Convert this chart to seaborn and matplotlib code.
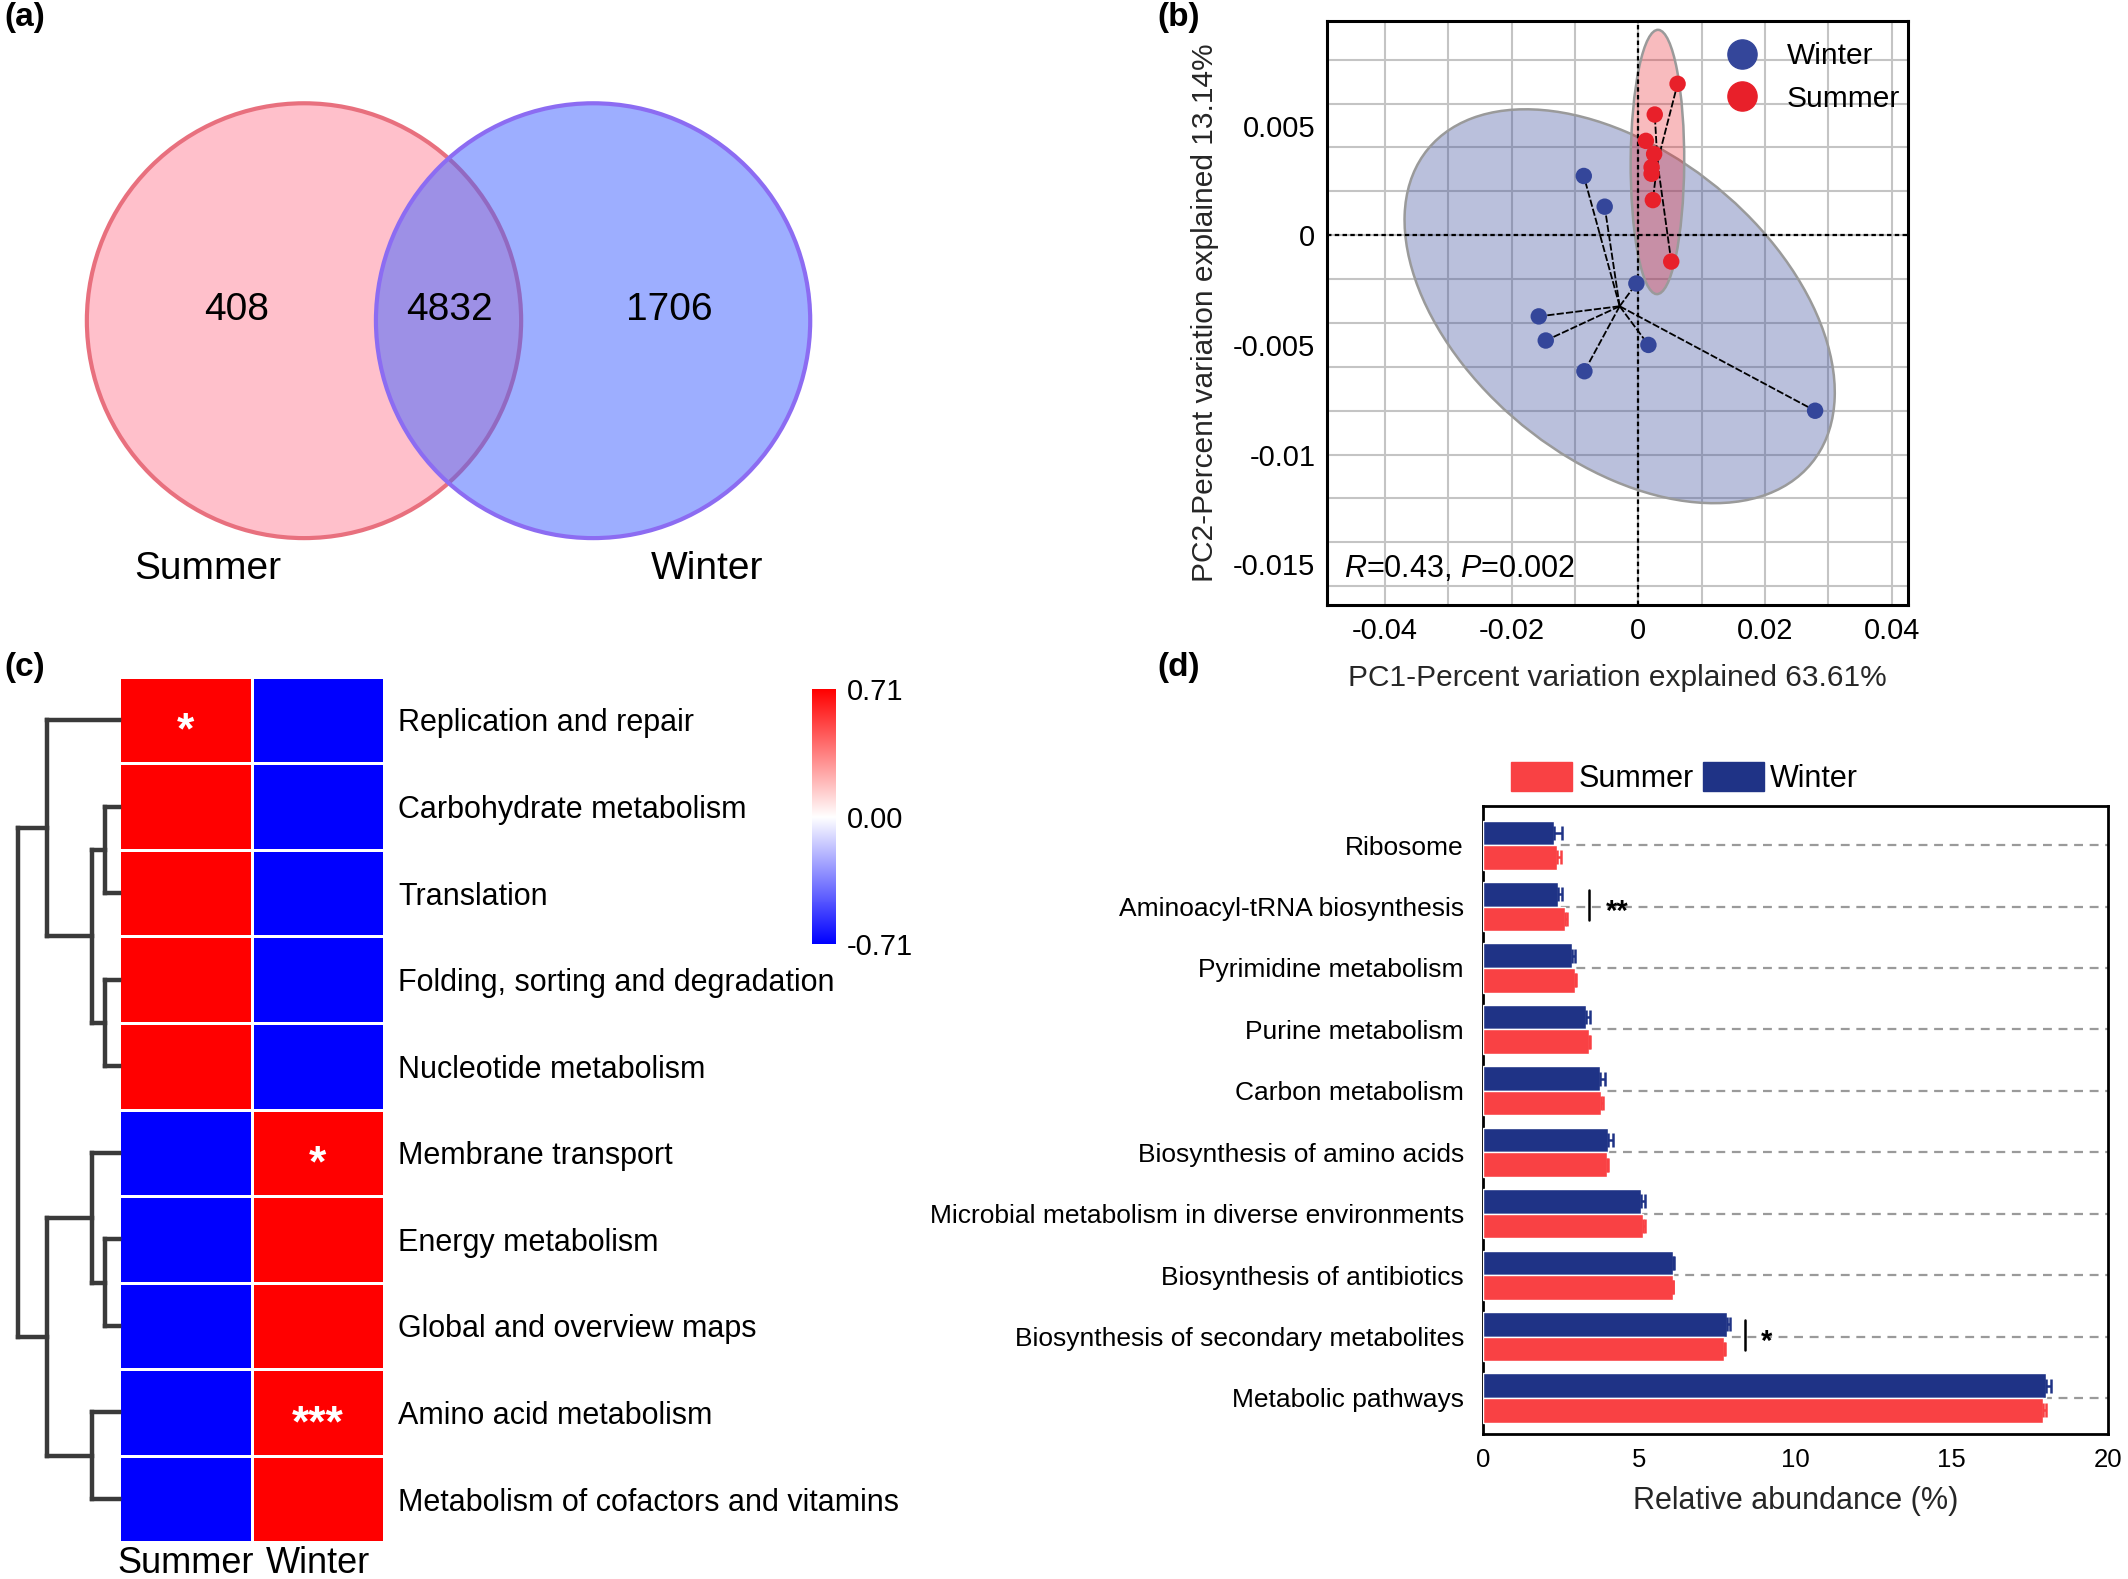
import numpy as np
import pandas as pd
import matplotlib
matplotlib.use("Agg")
import matplotlib.pyplot as plt
from matplotlib.patches import Ellipse, Patch, Circle
from matplotlib.lines import Line2D
from matplotlib.ticker import MultipleLocator, FuncFormatter
import matplotlib.transforms as mtransforms
import seaborn as sns

# ===== Data =====
# (a) Venn counts: summer only, shared, winter only
venn_labels = ["Summer", "Winter"]
venn_counts = [408, 4832, 1706]

# (b) PCoA scores
winter_pc1 = [-0.0086, -0.0053, -0.0003, -0.0157, -0.0146, -0.0085, 0.0016, 0.0279]
winter_pc2 = [0.0027, 0.0013, -0.0022, -0.0037, -0.0048, -0.0062, -0.0050, -0.0080]
summer_pc1 = [0.0062, 0.0026, 0.0012, 0.0025, 0.0021, 0.0021, 0.0023, 0.0052]
summer_pc2 = [0.0069, 0.0055, 0.0043, 0.0037, 0.0031, 0.0028, 0.0016, -0.0012]

# (c) KEGG level-2 heatmap (row z-scores)
kegg_l2 = ["Replication and repair", "Carbohydrate metabolism", "Translation",
           "Folding, sorting and degradation", "Nucleotide metabolism",
           "Membrane transport", "Energy metabolism", "Global and overview maps",
           "Amino acid metabolism", "Metabolism of cofactors and vitamins"]
z_summer = [0.71, 0.71, 0.71, 0.71, 0.71, -0.71, -0.71, -0.71, -0.71, -0.71]
z_winter = [-0.71, -0.71, -0.71, -0.71, -0.71, 0.71, 0.71, 0.71, 0.71, 0.71]
stars_summer = ["*", "", "", "", "", "", "", "", "", ""]
stars_winter = ["", "", "", "", "", "*", "", "", "***", ""]
# dendrogram merges (node a, node b, height); new nodes numbered from 10
dendro_merges = [(1, 2, 0.40), (3, 4, 0.40), (10, 11, 0.75), (0, 12, 2.0),
                 (6, 7, 0.40), (5, 14, 0.75), (8, 9, 0.75), (15, 16, 2.0),
                 (13, 17, 2.8)]

# (d) KEGG level-3 relative abundance (%)
kegg_l3 = ["Ribosome", "Aminoacyl-tRNA biosynthesis", "Pyrimidine metabolism",
           "Purine metabolism", "Carbon metabolism", "Biosynthesis of amino acids",
           "Microbial metabolism in diverse environments", "Biosynthesis of antibiotics",
           "Biosynthesis of secondary metabolites", "Metabolic pathways"]
summer_abund = [2.36, 2.62, 2.93, 3.39, 3.78, 3.97, 5.13, 6.07, 7.71, 17.92]
summer_err = [0.12, 0.05, 0.03, 0.04, 0.05, 0.03, 0.05, 0.02, 0.04, 0.10]
winter_abund = [2.25, 2.38, 2.84, 3.28, 3.73, 4.00, 5.06, 6.06, 7.79, 18.02]
winter_err = [0.28, 0.15, 0.09, 0.13, 0.16, 0.16, 0.12, 0.06, 0.11, 0.15]
sig_rows = [1, 8]
sig_line_x = [3.39, 8.39]
sig_text_x = [4.29, 9.07]
sig_text = ["**", "*"]

# ===== Style =====
sns.set_style("white")
plt.rcParams["font.family"] = ["Liberation Sans", "DejaVu Sans"]
plt.rcParams["mathtext.fontset"] = "custom"
plt.rcParams["mathtext.rm"] = "Liberation Sans"
plt.rcParams["mathtext.it"] = "Liberation Sans:italic"
plt.rcParams["text.color"] = "black"
plt.rcParams["xtick.color"] = "black"
plt.rcParams["ytick.color"] = "black"

RED = "#E8202A"
BLUE = "#34469A"
BAR_RED = "#F94144"
BAR_BLUE = "#1F3386"

fig = plt.figure(figsize=(21.28, 15.79), dpi=100)
W, H = 1568.0, 1162.0


def box(x0, y0, x1, y1):
    return [x0 / W, 1 - y1 / H, (x1 - x0) / W, (y1 - y0) / H]


# ===== (a) Venn =====
ax_a = fig.add_axes(box(0, 0, 640, 480))
ax_a.set_xlim(0, 640)
ax_a.set_ylim(480, 0)
ax_a.axis("off")
ax_a.add_patch(Circle((224, 236), 160, facecolor="#FFC0CB", edgecolor="none"))
ax_a.add_patch(Circle((224, 236), 160, facecolor="none", edgecolor="#E8707E", lw=3))
ax_a.add_patch(Circle((437, 236), 160, facecolor=(68 / 255, 100 / 255, 1.0), alpha=0.52, edgecolor="none"))
ax_a.add_patch(Circle((437, 236), 160, facecolor="none", edgecolor="#8C6CF2", lw=3))
for xpos, cnt in zip([174, 331, 493], venn_counts):
    ax_a.text(xpos, 228, str(cnt), ha="center", va="center", fontsize=28)
for xpos, lab in zip([153, 521], venn_labels):
    ax_a.text(xpos, 419, lab, ha="center", va="center", fontsize=28)

# ===== (b) PCoA =====
ax_b = fig.add_axes(box(978, 15.5, 1406, 445))
pcoa_df = pd.DataFrame({
    "PC1": winter_pc1 + summer_pc1,
    "PC2": winter_pc2 + summer_pc2,
    "Season": ["Winter"] * len(winter_pc1) + ["Summer"] * len(summer_pc1),
})
pal_b = {"Winter": BLUE, "Summer": RED}


def conf_ellipse(x, y, ax, n_std=2.4477, **kw):
    cov = np.cov(x, y)
    vals, vecs = np.linalg.eigh(cov)
    order = vals.argsort()[::-1]
    vals, vecs = vals[order], vecs[:, order]
    angle = np.degrees(np.arctan2(vecs[1, 0], vecs[0, 0]))
    w, h = 2 * n_std * np.sqrt(vals)
    ax.add_patch(Ellipse((np.mean(x), np.mean(y)), w, h, angle=angle, **kw))


conf_ellipse(winter_pc1, winter_pc2, ax_b, facecolor="#3B4C9B", alpha=0.35,
             edgecolor="none", zorder=1)
conf_ellipse(winter_pc1, winter_pc2, ax_b, facecolor="none", edgecolor="#9a9a9a",
             lw=1.8, zorder=1)
conf_ellipse(summer_pc1, summer_pc2, ax_b, facecolor=RED, alpha=0.3,
             edgecolor="none", zorder=1.2)
conf_ellipse(summer_pc1, summer_pc2, ax_b, facecolor="none", edgecolor="#9a9a9a",
             lw=1.8, zorder=1.2)

ax_b.axhline(0, color="black", ls=(0, (2, 1.5)), lw=1.6, zorder=1.5)
ax_b.axvline(0, color="black", ls=(0, (2, 1.5)), lw=1.6, zorder=1.5)

for season, grp in pcoa_df.groupby("Season"):
    cx, cy = grp["PC1"].mean(), grp["PC2"].mean()
    for px, py in zip(grp["PC1"], grp["PC2"]):
        ax_b.plot([cx, px], [cy, py], color="black", ls=(0, (4, 1.2)), lw=1.3, zorder=2)

sns.scatterplot(data=pcoa_df, x="PC1", y="PC2", hue="Season", palette=pal_b,
                s=140, edgecolor="none", legend=False, zorder=5, ax=ax_b)

ax_b.set_xlim(-0.04907, 0.04258)
ax_b.set_ylim(-0.01684, 0.00976)
ax_b.set_xticks([-0.04, -0.02, 0, 0.02, 0.04])
ax_b.set_yticks([0.005, 0, -0.005, -0.01, -0.015])


def fmt_tick(v, pos):
    s = f"{round(v, 4):g}"
    return "0" if s in ("-0", "0") else s


ax_b.xaxis.set_major_formatter(FuncFormatter(fmt_tick))
ax_b.yaxis.set_major_formatter(FuncFormatter(fmt_tick))
ax_b.xaxis.set_minor_locator(MultipleLocator(0.01))
ax_b.yaxis.set_minor_locator(MultipleLocator(0.002))
ax_b.xaxis.remove_overlapping_locs = False
ax_b.yaxis.remove_overlapping_locs = False
ax_b.grid(which="minor", color="#c4c4c4", lw=1.5)
ax_b.grid(which="major", visible=False)
ax_b.set_axisbelow(True)
ax_b.tick_params(which="minor", length=0)
ax_b.tick_params(which="major", labelsize=21, length=5, width=1.5, direction="out")
for sp in ax_b.spines.values():
    sp.set_linewidth(2.2)
    sp.set_color("black")
ax_b.set_xlabel("PC1-Percent variation explained 63.61%", fontsize=21.5, labelpad=14)
ax_b.set_ylabel("PC2-Percent variation explained 13.14%", fontsize=21.5, labelpad=10)
ax_b.text(0.028, 0.062, r"$\mathit{R}$=0.43, $\mathit{P}$=0.002", transform=ax_b.transAxes,
          fontsize=22, ha="left", va="center")
leg_handles = [Line2D([], [], marker="o", ls="none", color=pal_b[k], markersize=21, label=k)
               for k in ["Winter", "Summer"]]
ax_b.legend(handles=leg_handles, loc="upper left", bbox_to_anchor=(0.652, 1.0),
            frameon=False, fontsize=21.5, handlelength=1.0, handletextpad=1.0,
            labelspacing=0.5, borderpad=0.2)

# ===== (c) heatmap + dendrogram =====
ax_c = fig.add_axes(box(88, 498, 283, 1135))
ax_dn = fig.add_axes(box(13.5, 498, 88, 1135))
ax_cb = fig.add_axes(box(598, 507, 616, 695))

heat_df = pd.DataFrame({"Summer": z_summer, "Winter": z_winter}, index=kegg_l2)
star_arr = np.array([stars_summer, stars_winter]).T
sns.heatmap(heat_df, ax=ax_c, cmap="bwr", vmin=-0.71, vmax=0.71, linewidths=1,
            linecolor="white", annot=star_arr, fmt="",
            annot_kws={"color": "white", "fontsize": 32, "fontweight": "bold"},
            cbar_ax=ax_cb, cbar_kws={"ticks": [0.71, 0, -0.71]})
shift = mtransforms.ScaledTranslation(0, -12 / 100, fig.dpi_scale_trans)
for t in ax_c.texts:
    t.set_transform(t.get_transform() + shift)
ax_c.yaxis.tick_right()
ax_c.set_yticklabels(kegg_l2, rotation=0, fontsize=22, ha="left")
ax_c.set_xticklabels(heat_df.columns, fontsize=26)
ax_c.tick_params(axis="both", length=0)
ax_c.tick_params(axis="y", pad=10)
ax_c.tick_params(axis="x", pad=3)
ax_c.set_xlabel("")
ax_c.set_ylabel("")

cbar = ax_c.collections[0].colorbar
cbar.set_ticks([0.71, 0, -0.71])
cbar.set_ticklabels(["0.71", "0.00", "-0.71"])
cbar.ax.tick_params(length=0, labelsize=21, pad=8)
cbar.outline.set_visible(False)

pos = {i: i + 0.5 for i in range(len(kegg_l2))}
hgt = {i: 0.0 for i in range(len(kegg_l2))}
dn_kw = dict(color="#3a3a3a", lw=3.2, solid_capstyle="projecting", clip_on=False)
for k, (a, b, h) in enumerate(dendro_merges):
    node = len(kegg_l2) + k
    for c in (a, b):
        ax_dn.plot([hgt[c], h], [pos[c], pos[c]], **dn_kw)
    ax_dn.plot([h, h], [pos[a], pos[b]], **dn_kw)
    pos[node] = (pos[a] + pos[b]) / 2
    hgt[node] = h
ax_dn.set_xlim(max(hgt.values()), 0)
ax_dn.set_ylim(len(kegg_l2), 0)
ax_dn.axis("off")

# ===== (d) relative abundance bars =====
ax_d = fig.add_axes(box(1093, 593, 1553, 1055))
bar_df = pd.DataFrame({
    "Pathway": kegg_l3 * 2,
    "Season": ["Winter"] * len(kegg_l3) + ["Summer"] * len(kegg_l3),
    "Abundance": winter_abund + summer_abund,
})
for yv in range(len(kegg_l3)):
    ax_d.axhline(yv, color="#9a9a9a", ls=(0, (4, 3)), lw=1.6, zorder=0)
sns.barplot(data=bar_df, x="Abundance", y="Pathway", hue="Season",
            hue_order=["Winter", "Summer"], palette={"Winter": BAR_BLUE, "Summer": BAR_RED},
            width=0.8, errorbar=None, saturation=1, legend=False, ax=ax_d, zorder=3)
for cont, errs, col in zip(ax_d.containers, [winter_err, summer_err], [BAR_BLUE, BAR_RED]):
    ys = [b.get_y() + b.get_height() / 2 for b in cont]
    xs = [b.get_width() for b in cont]
    ax_d.errorbar(xs, ys, xerr=[np.zeros(len(errs)), errs], fmt="none", ecolor=col,
                  elinewidth=1.8, capsize=5, capthick=1.8, zorder=4)
for r, lx, tx, s in zip(sig_rows, sig_line_x, sig_text_x, sig_text):
    ax_d.plot([lx, lx], [r - 0.27, r + 0.22], color="black", lw=1.8, zorder=5)
    ax_d.text(tx, r + 0.08, s, ha="center", va="center", fontsize=21, fontweight="bold")

ax_d.set_xlim(0, 20)
ax_d.set_ylim(len(kegg_l3) - 1 + 0.58, -0.64)
ax_d.set_xticks([0, 5, 10, 15, 20])
ax_d.tick_params(axis="y", labelsize=19, length=8, width=2, pad=6, direction="out")
ax_d.tick_params(axis="x", labelsize=18.5, length=7, width=2, direction="out")
ax_d.set_ylabel("")
ax_d.set_xlabel("Relative abundance (%)", fontsize=22, labelpad=10)
for sp in ax_d.spines.values():
    sp.set_linewidth(2)
    sp.set_color("black")
ax_d.legend(handles=[Patch(color=BAR_RED, label="Summer"), Patch(color=BAR_BLUE, label="Winter")],
            loc="lower center", bbox_to_anchor=(0.322, 1.0), ncol=2, frameon=False,
            fontsize=22, handlelength=2.0, handleheight=1.1, handletextpad=0.2,
            columnspacing=0.3, borderpad=0.0, borderaxespad=0.4)

# ===== Panel labels =====
for lab, x, y in [("(a)", 0.002, 0.989), ("(b)", 0.544, 0.989),
                  ("(c)", 0.002, 0.5775), ("(d)", 0.544, 0.5775)]:
    fig.text(x, y, lab, fontsize=24, fontweight="bold", ha="left", va="center")

fig.savefig("out.png", dpi=100)
